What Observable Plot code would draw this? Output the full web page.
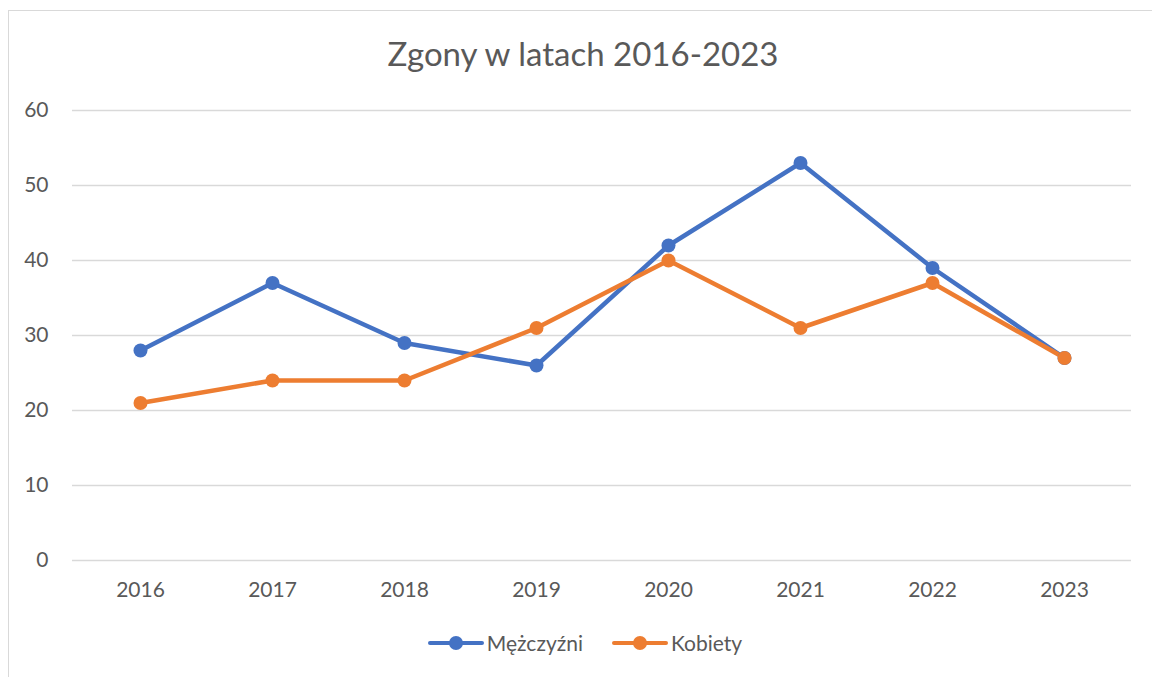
<!DOCTYPE html>
<html>
<head>
<meta charset="utf-8">
<script src="https://cdn.jsdelivr.net/npm/d3@7"></script>
<script src="https://cdn.jsdelivr.net/npm/@observablehq/plot@0.6"></script>
<style>
  html, body { margin: 0; padding: 0; background: #fff; width: 1152px; height: 677px; overflow: hidden; }
  #wrap { position: relative; width: 1152px; height: 677px; font-family: Lato, "Open Sans", sans-serif; color: #595959; }
  #frame { position: absolute; left: 8px; top: 10px; width: 1160px; height: 700px; border: 1.5px solid #d9d9d9; box-sizing: border-box; }
  #title { position: absolute; left: 7px; width: 1152px; top: 33px; text-align: center; font-size: 33px; color: #595959; }
  #chart { position: absolute; left: 0; top: 0; }
  #legend { position: absolute; left: 0; width: 1170px; top: 630px; display: flex; justify-content: center; gap: 29px; font-size: 21px; color: #595959; }
  .item { display: flex; align-items: center; }
  .sw { position: relative; width: 56px; height: 18px; margin-right: 3px; }
  .sw .ln { position: absolute; left: 0; right: 0; top: 7px; height: 4.5px; border-radius: 3px; }
  .sw .dt { position: absolute; left: 21px; top: 2px; width: 14px; height: 14px; border-radius: 50%; }
</style>
</head>
<body>
<div id="wrap">
  <div id="frame"></div>
  <div id="title">Zgony w latach 2016-2023</div>
  <div id="chart"></div>
  <div id="legend"></div>
</div>
<script>
const years = ["2016", "2017", "2018", "2019", "2020", "2021", "2022", "2023"];
const men = [28, 37, 29, 26, 42, 53, 39, 27];
const women = [21, 24, 24, 31, 40, 31, 37, 27];
const seriesNames = ["Mężczyźni", "Kobiety"];
const seriesColors = ["#4472C4", "#ED7D31"];
const yTicks = [0, 10, 20, 30, 40, 50, 60];

const data = [];
years.forEach((y, i) => data.push({year: y, value: men[i], series: seriesNames[0]}));
years.forEach((y, i) => data.push({year: y, value: women[i], series: seriesNames[1]}));

const chart = Plot.plot({
  width: 1152,
  height: 620,
  marginLeft: 72,
  marginRight: 21,
  marginTop: 110,
  marginBottom: 60,
  style: { fontFamily: "Lato, 'Open Sans', sans-serif", fontSize: "21px", color: "#595959", background: "transparent" },
  x: { type: "point", domain: years, padding: 0.5, label: null, tickSize: 0, tickPadding: 22 },
  y: { domain: [0, 60], ticks: yTicks, label: null, tickSize: 0, tickPadding: 24 },
  color: { domain: seriesNames, range: seriesColors },
  marks: [
    Plot.ruleY(yTicks, { stroke: "#d9d9d9", strokeWidth: 1.5 }),
    Plot.axisX({ tickSize: 0, tickPadding: 22, fill: "#595959", label: null }),
    Plot.axisY({ ticks: yTicks, tickSize: 0, tickPadding: 24, fill: "#595959", label: null }),
    Plot.line(data, { x: "year", y: "value", z: "series", stroke: "series", strokeWidth: 4.5, strokeLinejoin: "round", strokeLinecap: "round" }),
    Plot.dot(data, { x: "year", y: "value", fill: "series", r: 7, stroke: "none" })
  ]
});
document.getElementById("chart").appendChild(chart);

const legend = document.getElementById("legend");
seriesNames.forEach((name, i) => {
  const item = document.createElement("div");
  item.className = "item";
  item.innerHTML = `<div class="sw"><div class="ln" style="background:${seriesColors[i]}"></div><div class="dt" style="background:${seriesColors[i]}"></div></div><span>${name}</span>`;
  legend.appendChild(item);
});
</script>
</body>
</html>
